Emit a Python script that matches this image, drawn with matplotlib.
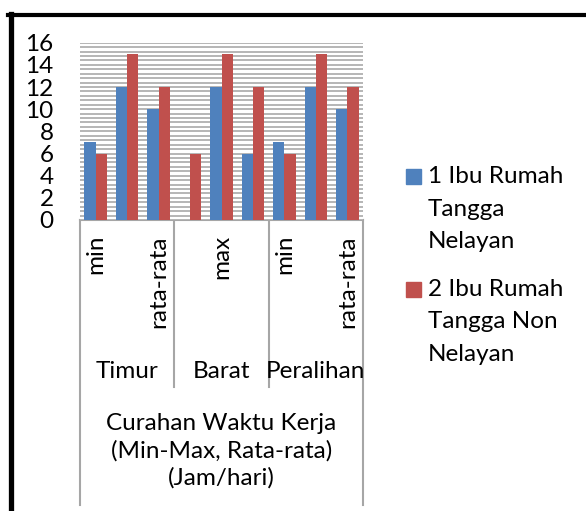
import matplotlib
matplotlib.use("Agg")
import matplotlib.pyplot as plt
import matplotlib.transforms as mtransforms
import numpy as np

# chart data
groups = ["Timur", "Barat", "Peralihan"]
sub_labels = ["min", "max", "rata-rata"] * 3
nelayan = [7, 12, 10, 0, 12, 6, 7, 12, 10]
non_nelayan = [6, 15, 12, 6, 15, 12, 6, 15, 12]
legend_labels = ["1 Ibu Rumah\nTangga\nNelayan", "2 Ibu Rumah\nTangga Non\nNelayan"]
axis_title = "Curahan Waktu Kerja\n(Min-Max, Rata-rata)\n(Jam/hari)"

plt.rcParams['font.family'] = ['Lato', 'DejaVu Sans']
W, H = 586, 511
FS = 17.5
fig = plt.figure(figsize=(W / 100, H / 100), dpi=100)

# overlay in pixel coords (y down)
ov = fig.add_axes([0, 0, 1, 1])
ov.set_xlim(0, W)
ov.set_ylim(H, 0)
ov.axis("off")

x0, x1, ytop, ybot = 80, 363, 42.7, 220
ax = fig.add_axes([x0 / W, 1 - ybot / H, (x1 - x0) / W, (ybot - ytop) / H])

blue = "#4F81BD"
red = "#C0504D"
grey = "#a6a6a6"

x = np.arange(len(sub_labels))
bw = 0.36
for yy in np.arange(0, 16.01, 0.4):
    ax.axhline(yy, color="#b0b0b0", lw=1.3, zorder=0)
ax.bar(x - bw / 2, nelayan, bw, color=blue, zorder=2)
ax.bar(x + bw / 2, non_nelayan, bw, color=red, zorder=2)
ax.set_xlim(-0.5, len(x) - 0.5)
ax.set_ylim(0, 16)
ax.set_yticks(np.arange(0, 17, 2))
ax.set_xticks([])
ax.tick_params(axis="y", length=0, pad=19, labelsize=FS)
for s in ax.spines.values():
    s.set_visible(False)

# multi-level category axis
tr = mtransforms.blended_transform_factory(ax.transData, ov.transData)
ov.plot([x0, x1], [ybot, ybot], color=grey, lw=1.5)
for b in [-0.5, 8.5]:
    ov.plot([b, b], [ybot, 505], color=grey, lw=1.5, transform=tr)
for b in [2.5, 5.5]:
    ov.plot([b, b], [ybot, 387], color=grey, lw=1.5, transform=tr)
for i, lab in enumerate(sub_labels):
    if i % 2 == 0:
        ov.text(i, 235, lab, rotation=90, ha="center", va="top",
                fontsize=FS, transform=tr)
for g, name in enumerate(groups):
    ov.text(g * 3 + 1, 372, name, ha="center", va="center",
            fontsize=FS, transform=tr)
ov.text(4, 451, axis_title, ha="center", va="center", fontsize=FS,
        linespacing=1.33, transform=tr)

# legend
for j, (lab, col) in enumerate(zip(legend_labels, [blue, red])):
    ys = 177 + j * 113
    ov.add_patch(plt.Rectangle((406, ys - 7.5), 15, 15, color=col))
    ov.text(428, ys + 32, lab, ha="left", va="center", fontsize=FS,
            linespacing=1.68)

# outer border (partly cropped)
ov.plot([8, W], [15.5, 15.5], color="black", lw=3)
ov.plot([10.5, 10.5], [14, H], color="black", lw=3.8)

fig.savefig("out.png", dpi=100)
